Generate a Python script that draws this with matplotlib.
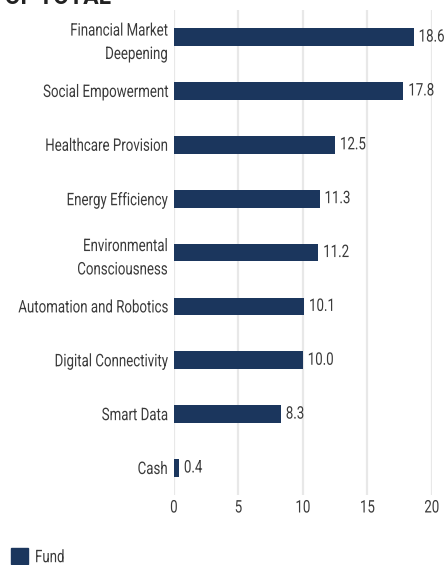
import matplotlib
matplotlib.use("Agg")
import matplotlib.pyplot as plt
from matplotlib.patches import Patch
from matplotlib.patheffects import AbstractPathEffect
from matplotlib.transforms import Affine2D

categories = [
    "Financial Market\nDeepening",
    "Social Empowerment",
    "Healthcare Provision",
    "Energy Efficiency",
    "Environmental\nConsciousness",
    "Automation and Robotics",
    "Digital Connectivity",
    "Smart Data",
    "Cash",
]
values = [18.6, 17.8, 12.5, 11.3, 11.2, 10.1, 10.0, 8.3, 0.4]
xticks = [0, 5, 10, 15, 20]

bar_color = "#1b365d"
text_color = "#3a3a3a"
font_size = 12.5
plt.rcParams["font.family"] = ["Roboto", "DejaVu Sans"]


class Narrow(AbstractPathEffect):
    """Squeeze glyphs horizontally, keeping the aligned edge in place."""

    def __init__(self, factor=0.765, align="left"):
        super().__init__()
        self.factor = factor
        self.align = align

    def draw_path(self, renderer, gc, tpath, affine, rgbFace=None):
        ext = tpath.get_extents()
        if self.align == "right":
            x0 = ext.x1
        elif self.align == "center":
            x0 = (ext.x0 + ext.x1) / 2
        else:
            x0 = 0
        squeeze = Affine2D().translate(-x0, 0).scale(self.factor, 1).translate(x0, 0)
        renderer.draw_path(gc, tpath, squeeze + affine, rgbFace)


fig = plt.figure(figsize=(4.47, 5.65), dpi=100)
ax = fig.add_axes([0.389, 0.124, 0.577, 0.858])

pos = list(range(len(categories)))
ax.barh(pos, values, height=0.33, color=bar_color, zorder=3)
for y, v in zip(pos, values):
    ax.text(v + 0.38, y, "%.1f" % v, va="center", ha="left",
            fontsize=font_size, color=text_color,
            path_effects=[Narrow(align="left")])

ax.set_ylim(len(categories) - 0.5, -0.5)
ax.set_xlim(0, 20)
ax.set_yticks(pos)
ax.set_yticklabels(categories, fontsize=font_size, color=text_color,
                   linespacing=1.7)
ax.set_xticks(xticks)
ax.set_xticklabels([str(t) for t in xticks], fontsize=font_size, color=text_color)
ax.tick_params(axis="y", length=0, pad=4.3)
ax.tick_params(axis="x", length=0, pad=4)
for lab in ax.get_yticklabels():
    lab.set_path_effects([Narrow(align="right")])
for lab in ax.get_xticklabels():
    lab.set_path_effects([Narrow(align="center")])
ax.grid(axis="x", color="#e8e8e8", linewidth=1.6, zorder=0)
for s in ax.spines.values():
    s.set_visible(False)

# section heading, mostly above the top edge
fig.text(-0.04, 0.993, "% OF TOTAL", fontsize=16.5, fontweight="bold",
         color="#222222", va="baseline", ha="left")

leg = fig.legend(handles=[Patch(color=bar_color, label="Fund")],
                 loc="lower left", bbox_to_anchor=(-0.011, -0.028), frameon=False,
                 fontsize=font_size, handlelength=1.0, handleheight=1.0,
                 handletextpad=0.4, labelcolor=text_color)
for t in leg.get_texts():
    t.set_path_effects([Narrow(align="left")])

fig.savefig("out.png", dpi=100)
